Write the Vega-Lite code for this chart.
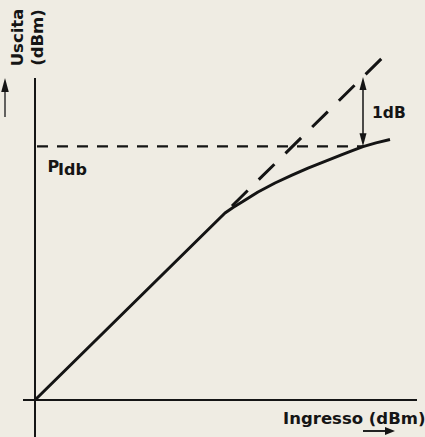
{
  "$schema": "https://vega.github.io/schema/vega-lite/v6.json",
  "width": 425,
  "height": 437,
  "autosize": {"type": "none"},
  "padding": 0,
  "background": "#efece3",
  "config": {
    "view": {"stroke": null},
    "font": "DejaVu Sans",
    "axis": {"domain": false, "ticks": false, "labels": false, "grid": false,
             "titleFont": "DejaVu Sans", "titleFontSize": 16.5, "titleFontWeight": "bold", "titleColor": "#151515"}
  },
  "data": {"values": [{}]},
  "datasets": {
    "curve": [
      {"input": 0, "output": 0},
      {"input": 19.0, "output": 18.98},
      {"input": 19.8, "output": 19.55},
      {"input": 20.7, "output": 20.1},
      {"input": 21.5, "output": 20.62},
      {"input": 22.3, "output": 21.12},
      {"input": 23.2, "output": 21.6},
      {"input": 24.0, "output": 22.03},
      {"input": 25.7, "output": 22.82},
      {"input": 27.3, "output": 23.55},
      {"input": 29.0, "output": 24.22},
      {"input": 30.7, "output": 24.92},
      {"input": 31.8, "output": 25.35},
      {"input": 32.8, "output": 25.72},
      {"input": 34.1, "output": 26.1},
      {"input": 35.5, "output": 26.45}
    ],
    "ideal": [
      {"input": 19.7, "output": 19.7},
      {"input": 34.7, "output": 34.7}
    ]
  },
  "layer": [
    {
      "data": {"name": "curve"},
      "mark": {"type": "line", "interpolate": "linear", "strokeWidth": 3, "color": "#141414", "strokeJoin": "round"},
      "encoding": {
        "x": {"field": "input", "type": "quantitative",
              "scale": {"domain": [-3.5, 39], "nice": false, "zero": false},
              "axis": {"title": "Ingresso (dBm)", "titleX": 425, "titleY": -14, "titleAlign": "right", "titleBaseline": "alphabetic", "titleAngle": 0}},
        "y": {"field": "output", "type": "quantitative",
              "scale": {"domain": [-3.756, 40.609], "nice": false, "zero": false},
              "axis": {"title": ["Uscita", "(dBm)"], "titleX": 22, "titleY": 37, "titleAngle": -90, "titleAlign": "center", "titleBaseline": "alphabetic", "titleLineHeight": 20}}
      }
    },
    {
      "data": {"name": "ideal"},
      "mark": {"type": "line", "strokeWidth": 3, "strokeDash": [22, 15.5], "color": "#141414"},
      "encoding": {
        "x": {"field": "input", "type": "quantitative"},
        "y": {"field": "output", "type": "quantitative"}
      }
    },
    {
      "mark": {"type": "rule", "strokeWidth": 2, "color": "#151515"},
      "encoding": {"x": {"datum": 0}, "y": {"datum": 32.69}, "y2": {"datum": -3.756}}
    },
    {
      "mark": {"type": "rule", "strokeWidth": 2, "color": "#151515"},
      "encoding": {"y": {"datum": 0}, "x": {"datum": -1.2}, "x2": {"datum": 38.2}}
    },
    {
      "mark": {"type": "rule", "strokeWidth": 2.2, "strokeDash": [11, 9], "color": "#151515"},
      "encoding": {"y": {"datum": 25.75}, "x": {"datum": 0.2}, "x2": {"datum": 32.8}}
    },
    {
      "mark": {"type": "rule", "strokeWidth": 1.5, "color": "#151515"},
      "encoding": {"x": {"datum": 32.8}, "y": {"datum": 26.5}, "y2": {"datum": 32.0}}
    },
    {
      "mark": {"type": "point", "filled": true, "shape": "M0,0L-0.27,1L0.27,1Z", "size": 676, "color": "#151515", "opacity": 1},
      "encoding": {"x": {"datum": 32.8}, "y": {"datum": 32.8}}
    },
    {
      "mark": {"type": "point", "filled": true, "shape": "M0,0L-0.27,-1L0.27,-1Z", "size": 676, "color": "#151515", "opacity": 1},
      "encoding": {"x": {"datum": 32.8}, "y": {"datum": 25.75}}
    },
    {
      "mark": {"type": "rule", "strokeWidth": 1.5, "color": "#333333"},
      "encoding": {"x": {"datum": -3.0}, "y": {"datum": 28.73}, "y2": {"datum": 31.5}}
    },
    {
      "mark": {"type": "point", "filled": true, "shape": "M0,0L-0.27,1L0.27,1Z", "size": 784, "color": "#151515", "opacity": 1},
      "encoding": {"x": {"datum": -3.0}, "y": {"datum": 32.69}}
    },
    {
      "mark": {"type": "rule", "strokeWidth": 2, "color": "#222222"},
      "encoding": {"y": {"datum": -3.147}, "x": {"datum": 32.8}, "x2": {"datum": 35.4}}
    },
    {
      "mark": {"type": "point", "filled": true, "shape": "M0,0L-1,-0.4L-1,0.4Z", "size": 400, "color": "#151515", "opacity": 1},
      "encoding": {"x": {"datum": 36.0}, "y": {"datum": -3.147}}
    },
    {
      "mark": {"type": "text", "text": "1dB", "align": "left", "baseline": "alphabetic", "fontSize": 15.5, "fontWeight": "bold", "color": "#151515"},
      "encoding": {"x": {"datum": 33.7}, "y": {"datum": 28.63}}
    },
    {
      "mark": {"type": "text", "text": "P", "align": "left", "baseline": "alphabetic", "fontSize": 16, "fontWeight": "bold", "color": "#151515"},
      "encoding": {"x": {"datum": 1.25}, "y": {"datum": 23.15}}
    },
    {
      "mark": {"type": "text", "text": "Idb", "align": "left", "baseline": "alphabetic", "fontSize": 16, "fontWeight": "bold", "color": "#151515"},
      "encoding": {"x": {"datum": 2.3}, "y": {"datum": 22.84}}
    }
  ]
}
